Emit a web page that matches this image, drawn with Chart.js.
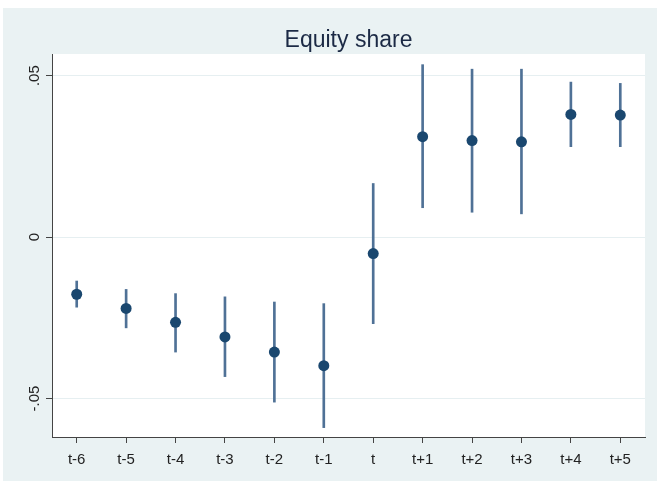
<!DOCTYPE html>
<html>
<head>
<meta charset="utf-8">
<script src="https://cdn.jsdelivr.net/npm/chart.js@4"></script>
<style>
  body { margin: 0; background: #ffffff; }
  canvas { display: block; }
</style>
</head>
<body>
<canvas id="chart-canvas" width="657" height="481"></canvas>
<script>
const period_labels = ["t-6", "t-5", "t-4", "t-3", "t-2", "t-1", "t", "t+1", "t+2", "t+3", "t+4", "t+5"]
const coef_values = [-0.0177, -0.0221, -0.0264, -0.0309, -0.0356, -0.0398, -0.0051, 0.0311, 0.0299, 0.0295, 0.0380, 0.0378]
const ci_low = [-0.0217, -0.0281, -0.0356, -0.0432, -0.0511, -0.0590, -0.0268, 0.0091, 0.0077, 0.0072, 0.0280, 0.0280]
const ci_high = [-0.0136, -0.0162, -0.0175, -0.0185, -0.0201, -0.0206, 0.0166, 0.0534, 0.0520, 0.0520, 0.0480, 0.0476]
const y_tick_values = [-0.05, 0, 0.05]
const y_tick_labels = ["-.05", "0", ".05"]
const chart_title = "Equity share"

const font_family = "'Liberation Sans', Arial, sans-serif"

// stata style background + white plot region + title + rotated y labels
const stataLook = {
    id: "stataLook",
    beforeDraw(chart){
        const ctx = chart.ctx
        const area = chart.chartArea
        ctx.save()
        ctx.fillStyle = "#eaf2f3"
        ctx.fillRect(3, 8, chart.width - 3, chart.height - 8)
        ctx.fillStyle = "#ffffff"
        ctx.fillRect(area.left, area.top, area.right - area.left, area.bottom - area.top)
        ctx.restore()
    },
    afterDraw(chart){
        const ctx = chart.ctx
        const area = chart.chartArea
        const y_scale = chart.scales.y
        ctx.save()
        ctx.fillStyle = "#1c2a45"
        ctx.font = "23px " + font_family
        ctx.textAlign = "center"
        ctx.textBaseline = "alphabetic"
        ctx.fillText(chart_title, (area.left + area.right) / 2, 47)

        ctx.fillStyle = "#222222"
        ctx.font = "15px " + font_family
        y_tick_values.forEach(function(v, i){
            const py = y_scale.getPixelForValue(v)
            ctx.save()
            ctx.translate(area.left - 17, py)
            ctx.rotate(-Math.PI / 2)
            ctx.textAlign = "center"
            ctx.textBaseline = "middle"
            ctx.fillText(y_tick_labels[i], 0, 0)
            ctx.restore()
        })
        ctx.restore()
    }
}

const ci_data = ci_low.map(function(lo, i){ return [lo, ci_high[i]] })

new Chart(document.getElementById("chart-canvas"), {
    data: {
        labels: period_labels,
        datasets: [
            {
                type: "line",
                label: "coef",
                data: coef_values,
                showLine: false,
                pointRadius: 5.5,
                pointHoverRadius: 5.5,
                pointBackgroundColor: "#1a476f",
                pointBorderColor: "#1a476f",
                pointBorderWidth: 0,
                order: 0
            },
            {
                type: "bar",
                label: "ci",
                data: ci_data,
                backgroundColor: "#4f7196",
                barThickness: 2,
                borderWidth: 0,
                order: 1
            }
        ]
    },
    options: {
        responsive: false,
        animation: false,
        devicePixelRatio: 1,
        layout: {
            padding: { top: 54, right: 12, left: 0, bottom: 0 }
        },
        plugins: {
            legend: { display: false },
            tooltip: { enabled: false },
            title: { display: false }
        },
        scales: {
            x: {
                type: "category",
                offset: true,
                grid: {
                    drawOnChartArea: false,
                    drawTicks: true,
                    tickLength: 6,
                    tickColor: "#444444",
                    offset: false
                },
                border: { display: true, color: "#444444", width: 1 },
                ticks: {
                    color: "#222222",
                    padding: 8,
                    font: { family: font_family, size: 15 },
                    maxRotation: 0,
                    autoSkip: false
                },
                afterFit: function(scale){ scale.height = 44 }
            },
            y: {
                type: "linear",
                min: -0.0619,
                max: 0.0567,
                afterBuildTicks: function(scale){
                    scale.ticks = y_tick_values.map(function(v){ return { value: v } })
                },
                grid: {
                    color: "#e6eff1",
                    lineWidth: 1,
                    drawTicks: true,
                    tickLength: 6,
                    tickColor: "#444444"
                },
                border: { display: true, color: "#444444", width: 1 },
                ticks: { display: false },
                afterFit: function(scale){ scale.width = 52 }
            }
        }
    },
    plugins: [stataLook]
})
</script>
</body>
</html>
